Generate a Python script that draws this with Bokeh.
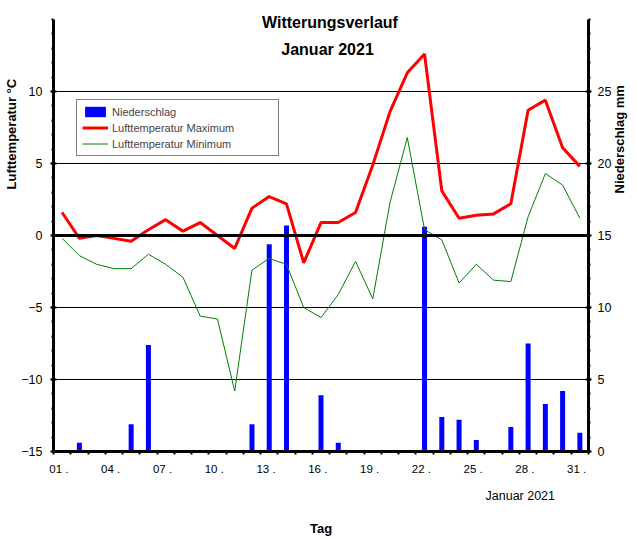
import math
from bokeh.plotting import figure
from bokeh.models import (Range1d, LinearAxis, FixedTicker, Span, Label, Title,
                          Legend, LegendItem, ColumnDataSource)
from bokeh.embed import file_html
from bokeh.resources import INLINE

# ---- data ----
days = list(range(1, 32))
t_max = [1.6, -0.2, 0.0, -0.2, -0.4, 0.4, 1.1, 0.3, 0.9, 0.0, -0.9, 1.9, 2.7, 2.2,
         -1.9, 0.9, 0.9, 1.6, 4.9, 8.6, 11.3, 12.6, 3.1, 1.2, 1.4, 1.5, 2.2, 8.7,
         9.4, 6.1, 4.8]
t_min = [-0.2, -1.4, -2.0, -2.3, -2.3, -1.3, -2.0, -2.9, -5.6, -5.8, -10.8, -2.4,
         -1.6, -2.0, -5.0, -5.7, -4.1, -1.8, -4.4, 2.3, 6.8, 0.4, -0.3, -3.3, -2.0,
         -3.1, -3.2, 1.3, 4.3, 3.5, 1.2]
precip = [0.0, 0.6, 0.1, 0.0, 1.9, 7.4, 0.1, 0.0, 0.0, 0.0, 0.0, 1.9, 14.4, 15.7,
          0.1, 3.9, 0.6, 0.0, 0.0, 0.0, 0.1, 15.6, 2.4, 2.2, 0.8, 0.0, 1.7, 7.5,
          3.3, 4.2, 1.3]
x_tick_days = [1, 4, 7, 10, 13, 16, 19, 22, 25, 28, 31]
x_tick_labels = ["01 .", "04 .", "07 .", "10 .", "13 .", "16 .", "19 .", "22 .",
                 "25 .", "28 .", "31 ."]
temp_ticks = [-15, -10, -5, 0, 5, 10]
rain_ticks = [0, 5, 10, 15, 20, 25]

FONT = "Liberation Sans"
NBSP = "\u00a0"

src = ColumnDataSource(dict(day=days, tmax=t_max, tmin=t_min, rain=precip))

p = figure(width=637, height=538, x_range=Range1d(0.5, 31.5),
           y_range=Range1d(-15, 15.625),
           output_backend="svg", toolbar_location=None,
           min_border_left=53, min_border_right=48, min_border_top=10,
           min_border_bottom=87, outline_line_color=None)
p.extra_y_ranges = {"rain": Range1d(0, 30.625), "px": Range1d(0, 441)}

# grid
p.xgrid.visible = False
p.ygrid.ticker = FixedTicker(ticks=[-10, -5, 5, 10])
p.ygrid.grid_line_color = "black"
p.ygrid.grid_line_width = 1
p.ygrid.grid_line_alpha = 1.0

bars = p.vbar(x="day", top="rain", bottom=0, width=0.29, y_range_name="rain",
              fill_color="#0000FF", line_color=None, source=src)
p.add_layout(Span(location=0, dimension="width", line_color="black", line_width=3))
lmin = p.line(x="day", y="tmin", source=src, line_color="#008000", line_width=1)
lmax = p.line(x="day", y="tmax", source=src, line_color="#FF0000", line_width=3)

# x axis
xa = p.xaxis[0]
xa.ticker = FixedTicker(ticks=x_tick_days, minor_ticks=[d + 0.5 for d in range(0, 32)])
xa.major_label_overrides = {d: s + NBSP * 2 for d, s in zip(x_tick_days, x_tick_labels)}
xa.major_tick_line_color = None
xa.major_tick_in = 0
xa.major_tick_out = 3
xa.minor_tick_in = 0
xa.minor_tick_out = 3
xa.minor_tick_line_width = 2
xa.axis_line_width = 3
xa.major_label_standoff = 8
xa.major_label_text_font = FONT
xa.major_label_text_font_size = "11.5px"
xa.major_label_text_color = "black"


def style_y(ax):
    ax.axis_line_width = 3
    ax.major_tick_in = 3
    ax.major_tick_out = 3
    ax.major_tick_line_width = 2
    ax.minor_tick_in = 0
    ax.minor_tick_out = 2
    ax.minor_tick_line_width = 2
    ax.major_label_standoff = 8
    ax.major_label_text_font = FONT
    ax.major_label_text_font_size = "12.5px"
    ax.major_label_text_color = "black"


# left axis
ya = p.yaxis[0]
ya.ticker = FixedTicker(ticks=temp_ticks, minor_ticks=list(range(-15, 16)))
ya.bounds = (-15, 15)
style_y(ya)

# right axis
ra = LinearAxis(y_range_name="rain",
                ticker=FixedTicker(ticks=rain_ticks, minor_ticks=list(range(0, 31))))
ra.bounds = (0, 30)
style_y(ra)
ra.major_label_standoff = 6
p.add_layout(ra, "right")

# right axis title: a bare axis whose single tick label is the title
rt = LinearAxis(y_range_name="px", ticker=FixedTicker(ticks=[258]))
rt.major_label_overrides = {258: "Niederschlag  mm"}
rt.major_label_orientation = math.pi / 2
rt.axis_line_color = None
rt.major_tick_line_color = None
rt.minor_tick_line_color = None
rt.major_tick_in = 0
rt.major_tick_out = 0
rt.minor_tick_in = 0
rt.minor_tick_out = 0
rt.major_label_standoff = 5
rt.major_label_text_font = FONT
rt.major_label_text_font_size = "13px"
rt.major_label_text_font_style = "bold"
rt.major_label_text_color = "black"
p.add_layout(rt, "right")

# left axis title (as a side title so it can be moved up)
lt = Title(text="Lufttemperatur  °C", align="left", offset=262, standoff=0,
           text_line_height=1.0,
           text_font=FONT, text_font_size="13px", text_font_style="bold",
           text_color="black")
p.add_layout(lt, "left")

# bottom texts
bt1 = Title(text="Januar  2021", align="right", offset=30, standoff=23,
            vertical_align="top", text_line_height=1.0,
            text_font=FONT, text_font_size="12.5px", text_font_style="normal",
            text_color="black")
p.add_layout(bt1, "below")
bt2 = Title(text="Tag", align="center", standoff=4, vertical_align="bottom",
            text_line_height=1.0,
            text_font=FONT, text_font_size="13px", text_font_style="bold",
            text_color="black")
p.add_layout(bt2, "below")

# legend
legend = Legend(items=[LegendItem(label="Niederschlag", renderers=[bars]),
                       LegendItem(label="Lufttemperatur Maximum", renderers=[lmax]),
                       LegendItem(label="Lufttemperatur Minimum", renderers=[lmin])],
                location=(23, 295))
legend.border_line_color = "black"
legend.border_line_width = 1
legend.background_fill_color = "white"
legend.background_fill_alpha = 1.0
legend.padding = 5
legend.spacing = 3
legend.margin = 0
legend.glyph_width = 26
legend.glyph_height = 13
legend.label_height = 13
legend.label_width = 161
legend.label_standoff = 4
legend.label_text_font = FONT
legend.label_text_font_size = "11px"
p.add_layout(legend, "center")

# chart title inside the frame
for x, y, t in [(16.52, 14.8, "Witterungsverlauf"), (16.38, 12.9, "Januar 2021")]:
    p.add_layout(Label(x=x, y=y, text=t, text_font=FONT, text_font_size="16px",
                       text_font_style="bold", text_align="center",
                       text_baseline="middle", text_color="black"))

open("out.html", "w").write(file_html(p, INLINE))
